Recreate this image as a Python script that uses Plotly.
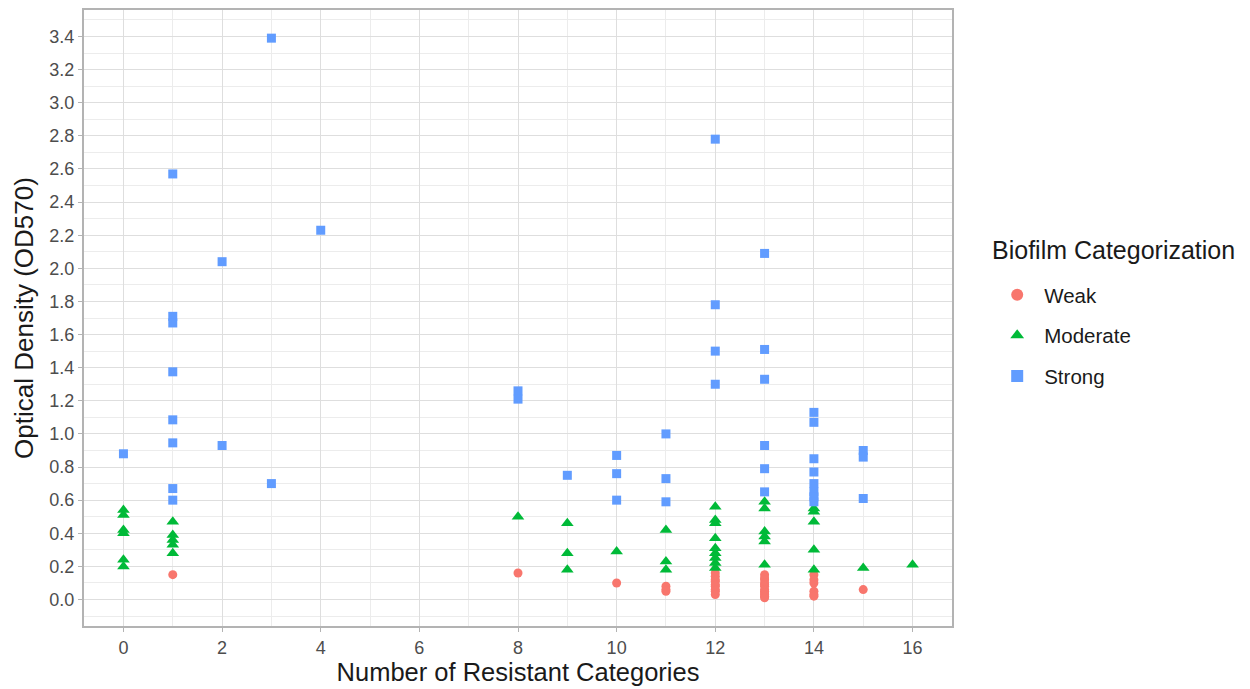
import plotly.graph_objects as go

# Weak (circles)
weak_x = [1, 8, 10, 11, 11, 11,
          12, 12, 12, 12, 12, 12, 12, 12, 12,
          13, 13, 13, 13, 13, 13, 13, 13, 13, 13, 13, 13,
          14, 14, 14, 14, 14, 14, 15]
weak_y = [0.15, 0.16, 0.10, 0.08, 0.06, 0.05,
          0.16, 0.14, 0.12, 0.11, 0.09, 0.08, 0.06, 0.05, 0.03,
          0.15, 0.13, 0.12, 0.10, 0.09, 0.08, 0.06, 0.05, 0.04, 0.03, 0.02, 0.01,
          0.15, 0.12, 0.10, 0.05, 0.03, 0.02, 0.06]

# Moderate (triangles)
mod_x = [0, 0, 0, 0, 0, 0,
         1, 1, 1, 1, 1,
         8, 9, 9, 9, 10, 11, 11, 11,
         12, 12, 12, 12, 12, 12, 12, 12, 12,
         13, 13, 13, 13, 13, 13,
         14, 14, 14, 14, 14, 15, 16]
mod_y = [0.54, 0.51, 0.42, 0.40, 0.24, 0.20,
         0.47, 0.39, 0.36, 0.33, 0.28,
         0.50, 0.46, 0.28, 0.18, 0.29, 0.42, 0.23, 0.18,
         0.56, 0.48, 0.46, 0.37, 0.31, 0.28, 0.25, 0.22, 0.19,
         0.59, 0.55, 0.41, 0.38, 0.35, 0.21,
         0.55, 0.53, 0.47, 0.30, 0.18, 0.19, 0.21]

# Strong (squares)
strong_x = [0, 1, 1, 1, 1, 1, 1, 1, 1, 2, 2, 3, 3, 4,
            8, 8, 9, 10, 10, 10, 11, 11, 11,
            12, 12, 12, 12, 13, 13, 13, 13, 13, 13,
            14, 14, 14, 14, 14, 14, 14, 14, 15, 15, 15]
strong_y = [0.88, 2.57, 1.71, 1.67, 1.375, 1.085, 0.946, 0.67, 0.60, 2.04, 0.93, 3.39, 0.70, 2.23,
            1.26, 1.21, 0.75, 0.87, 0.76, 0.60, 1.00, 0.73, 0.59,
            2.78, 1.78, 1.50, 1.30, 2.09, 1.51, 1.33, 0.93, 0.79, 0.65,
            1.13, 1.07, 0.85, 0.77, 0.70, 0.65, 0.62, 0.59, 0.90, 0.86, 0.61]

x_ticks = list(range(0, 17, 2))
y_ticks = [round(i * 0.2, 1) for i in range(0, 18)]

font = "Liberation Sans, Arial, sans-serif"

fig = go.Figure()
fig.add_trace(go.Scatter(x=weak_x, y=weak_y, mode="markers", name="Weak", legendgroup="w",
                         marker=dict(symbol="circle", size=9, color="#F8766D")))
fig.add_trace(go.Scatter(x=mod_x, y=mod_y, mode="markers", name="Moderate", legendgroup="m",
                         marker=dict(symbol="triangle-up", size=11, color="#00BA38")))
fig.add_trace(go.Scatter(x=strong_x, y=strong_y, mode="markers", name="Strong", legendgroup="s",
                         marker=dict(symbol="square", size=9, color="#619CFF")))

fig.add_annotation(text="Biofilm Categorization", xref="paper", yref="paper",
                   x=1.044, y=0.611, xanchor="left", yanchor="middle", showarrow=False,
                   font=dict(size=25, color="#1a1a1a"))

fig.update_layout(
    width=1250, height=689,
    margin=dict(l=76, r=306, t=0, b=71),
    paper_bgcolor="white", plot_bgcolor="white",
    font=dict(family=font, color="#1a1a1a"),
    legend=dict(
        font=dict(size=20.5, color="#1a1a1a"),
        x=1.044, xanchor="left", y=0.570, yanchor="top",
        itemsizing="constant", tracegroupgap=11, itemwidth=44,
    ),
    xaxis=dict(
        range=[-0.8, 16.8], tickmode="array", tickvals=x_ticks,
        ticktext=[str(v) for v in x_ticks],
        showgrid=True, gridcolor="#dedede", gridwidth=1,
        minor=dict(dtick=1, showgrid=True, gridcolor="#ececec", gridwidth=0.6),
        zeroline=False, showline=True, linecolor="#b3b3b3", linewidth=2, mirror=True,
        ticks="outside", ticklen=4, tickcolor="#b3b3b3",
        tickfont=dict(size=18, color="#4d4d4d"),
        title=dict(text="Number of Resistant Categories", font=dict(size=25.5, color="#1a1a1a"), standoff=7),
    ),
    yaxis=dict(
        range=[-0.16, 3.56], tickmode="array", tickvals=y_ticks,
        ticktext=[f"{v:.1f}" for v in y_ticks],
        showgrid=True, gridcolor="#dedede", gridwidth=1,
        minor=dict(tickvals=[round(0.1 + i * 0.2, 1) for i in range(-1, 18)], showgrid=True, gridcolor="#ececec", gridwidth=0.6),
        zeroline=False, showline=True, linecolor="#b3b3b3", linewidth=2, mirror=True,
        ticks="outside", ticklen=4, tickcolor="#b3b3b3",
        tickfont=dict(size=18, color="#4d4d4d"),
        title=dict(text="Optical Density (OD570)", font=dict(size=26, color="#1a1a1a"), standoff=8),
    ),
)

fig.write_html("out.html")
